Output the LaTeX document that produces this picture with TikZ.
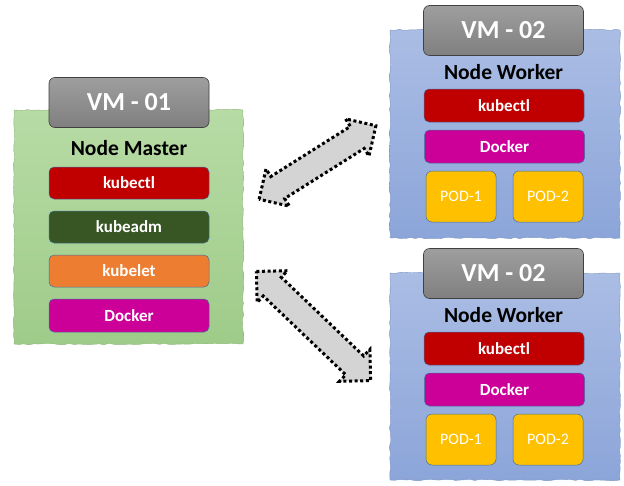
\documentclass[tikz,border=0pt]{standalone}
\usepackage{fontspec}
\setmainfont{Carlito}
\usetikzlibrary{decorations.pathmorphing}
\definecolor{gtop}{HTML}{B7DBA5}
\definecolor{gbot}{HTML}{9FCB89}
\definecolor{btop}{HTML}{AABDE4}
\definecolor{bbot}{HTML}{8CA5D9}
\definecolor{kred}{HTML}{C00000}
\definecolor{kgreen}{HTML}{375623}
\definecolor{korange}{HTML}{ED7D31}
\definecolor{kpink}{HTML}{CC0099}
\definecolor{kpod}{HTML}{FFC000}
\definecolor{edgeblue}{HTML}{41719C}
\definecolor{arrgray}{HTML}{D4D4D4}
\tikzset{
  sketchy/.style={decorate,decoration={random steps,segment length=5pt,amplitude=0.8pt}},
  greenvm/.style={sketchy, top color=gtop, bottom color=gbot, draw=gbot!90!black, line width=0.4pt},
  bluevm/.style={sketchy, top color=btop, bottom color=bbot, draw=bbot!90!black, line width=0.4pt},
  vmlabel/.style={rectangle, rounded corners=6pt, top color=black!38, bottom color=black!50, draw=black!75, line width=0.6pt, minimum width=160pt, minimum height=50pt, text=white, font=\fontsize{26}{28}\selectfont\bfseries},
  title/.style={font=\fontsize{21.5}{24}\selectfont\bfseries, text=black},
  comp/.style={rectangle, rounded corners=5pt, draw=edgeblue, line width=0.5pt, minimum width=160pt, minimum height=32pt, text=white, font=\fontsize{17}{18}\selectfont\bfseries, inner sep=0pt},
  pod/.style={rectangle, rounded corners=6pt, draw=edgeblue, fill=kpod, line width=0.5pt, minimum width=70pt, minimum height=51pt, text=white, font=\fontsize{16}{18}\selectfont, inner sep=0pt},
  blockarrow/.style={fill=arrgray, draw=black, line width=3pt, dash pattern=on 3pt off 2.6pt, line join=miter}
}
\newcommand{\dblarrow}[1]{%
  \path[blockarrow] (-#1,0) -- (-#1+22,-22) -- (-#1+22,-13) -- (#1-22,-13) -- (#1-22,-22) -- (#1,0) -- (#1-22,22) -- (#1-22,13) -- (-#1+22,13) -- (-#1+22,22) -- cycle;}
\begin{document}
\begin{tikzpicture}[x=1pt,y=-1pt]
\useasboundingbox (0,0) rectangle (624,485);
% left VM
\path[greenvm] (14,110) rectangle (243,344);
\node[vmlabel] (vm1) at (129,102.5) {VM - 01};
\node[title] (nm) at (129,148) {Node Master};
\node[comp, fill=kred] (m1) at (129,183) {kubectl};
\node[comp, fill=kgreen] (m2) at (129,227) {kubeadm};
\node[comp, fill=korange] (m3) at (129,271) {kubelet};
\node[comp, fill=kpink, minimum height=33pt] (m4) at (129,315.5) {Docker};
% top right VM
\path[bluevm] (390,30) rectangle (620,238);
\node[vmlabel] (vm2) at (503.5,30.5) {VM - 02};
\node[title] (nw1) at (503.5,72) {Node Worker};
\node[comp, fill=kred, minimum height=33pt] (w1a) at (504,105.5) {kubectl};
\node[comp, fill=kpink, minimum height=33pt] (w1b) at (504.5,146.5) {Docker};
\node[pod] (w1p1) at (461,196.5) {POD-1};
\node[pod] (w1p2) at (548,196.5) {POD-2};
% bottom right VM
\path[bluevm] (390,273) rectangle (620,480);
\node[vmlabel] (vm3) at (503.5,273.5) {VM - 02};
\node[title] (nw2) at (503.5,315) {Node Worker};
\node[comp, fill=kred, minimum height=33pt] (w2a) at (504,348.5) {kubectl};
\node[comp, fill=kpink, minimum height=33pt] (w2b) at (504.5,389.5) {Docker};
\node[pod] (w2p1) at (461,439.5) {POD-1};
\node[pod] (w2p2) at (548,439.5) {POD-2};
% block arrows
\begin{scope}[shift={(317.5,162.5)}, rotate=32.2]
  \dblarrow{69}
\end{scope}
\begin{scope}[shift={(313.5,326)}, rotate=-43.7]
  \dblarrow{79}
\end{scope}
\end{tikzpicture}
\end{document}
